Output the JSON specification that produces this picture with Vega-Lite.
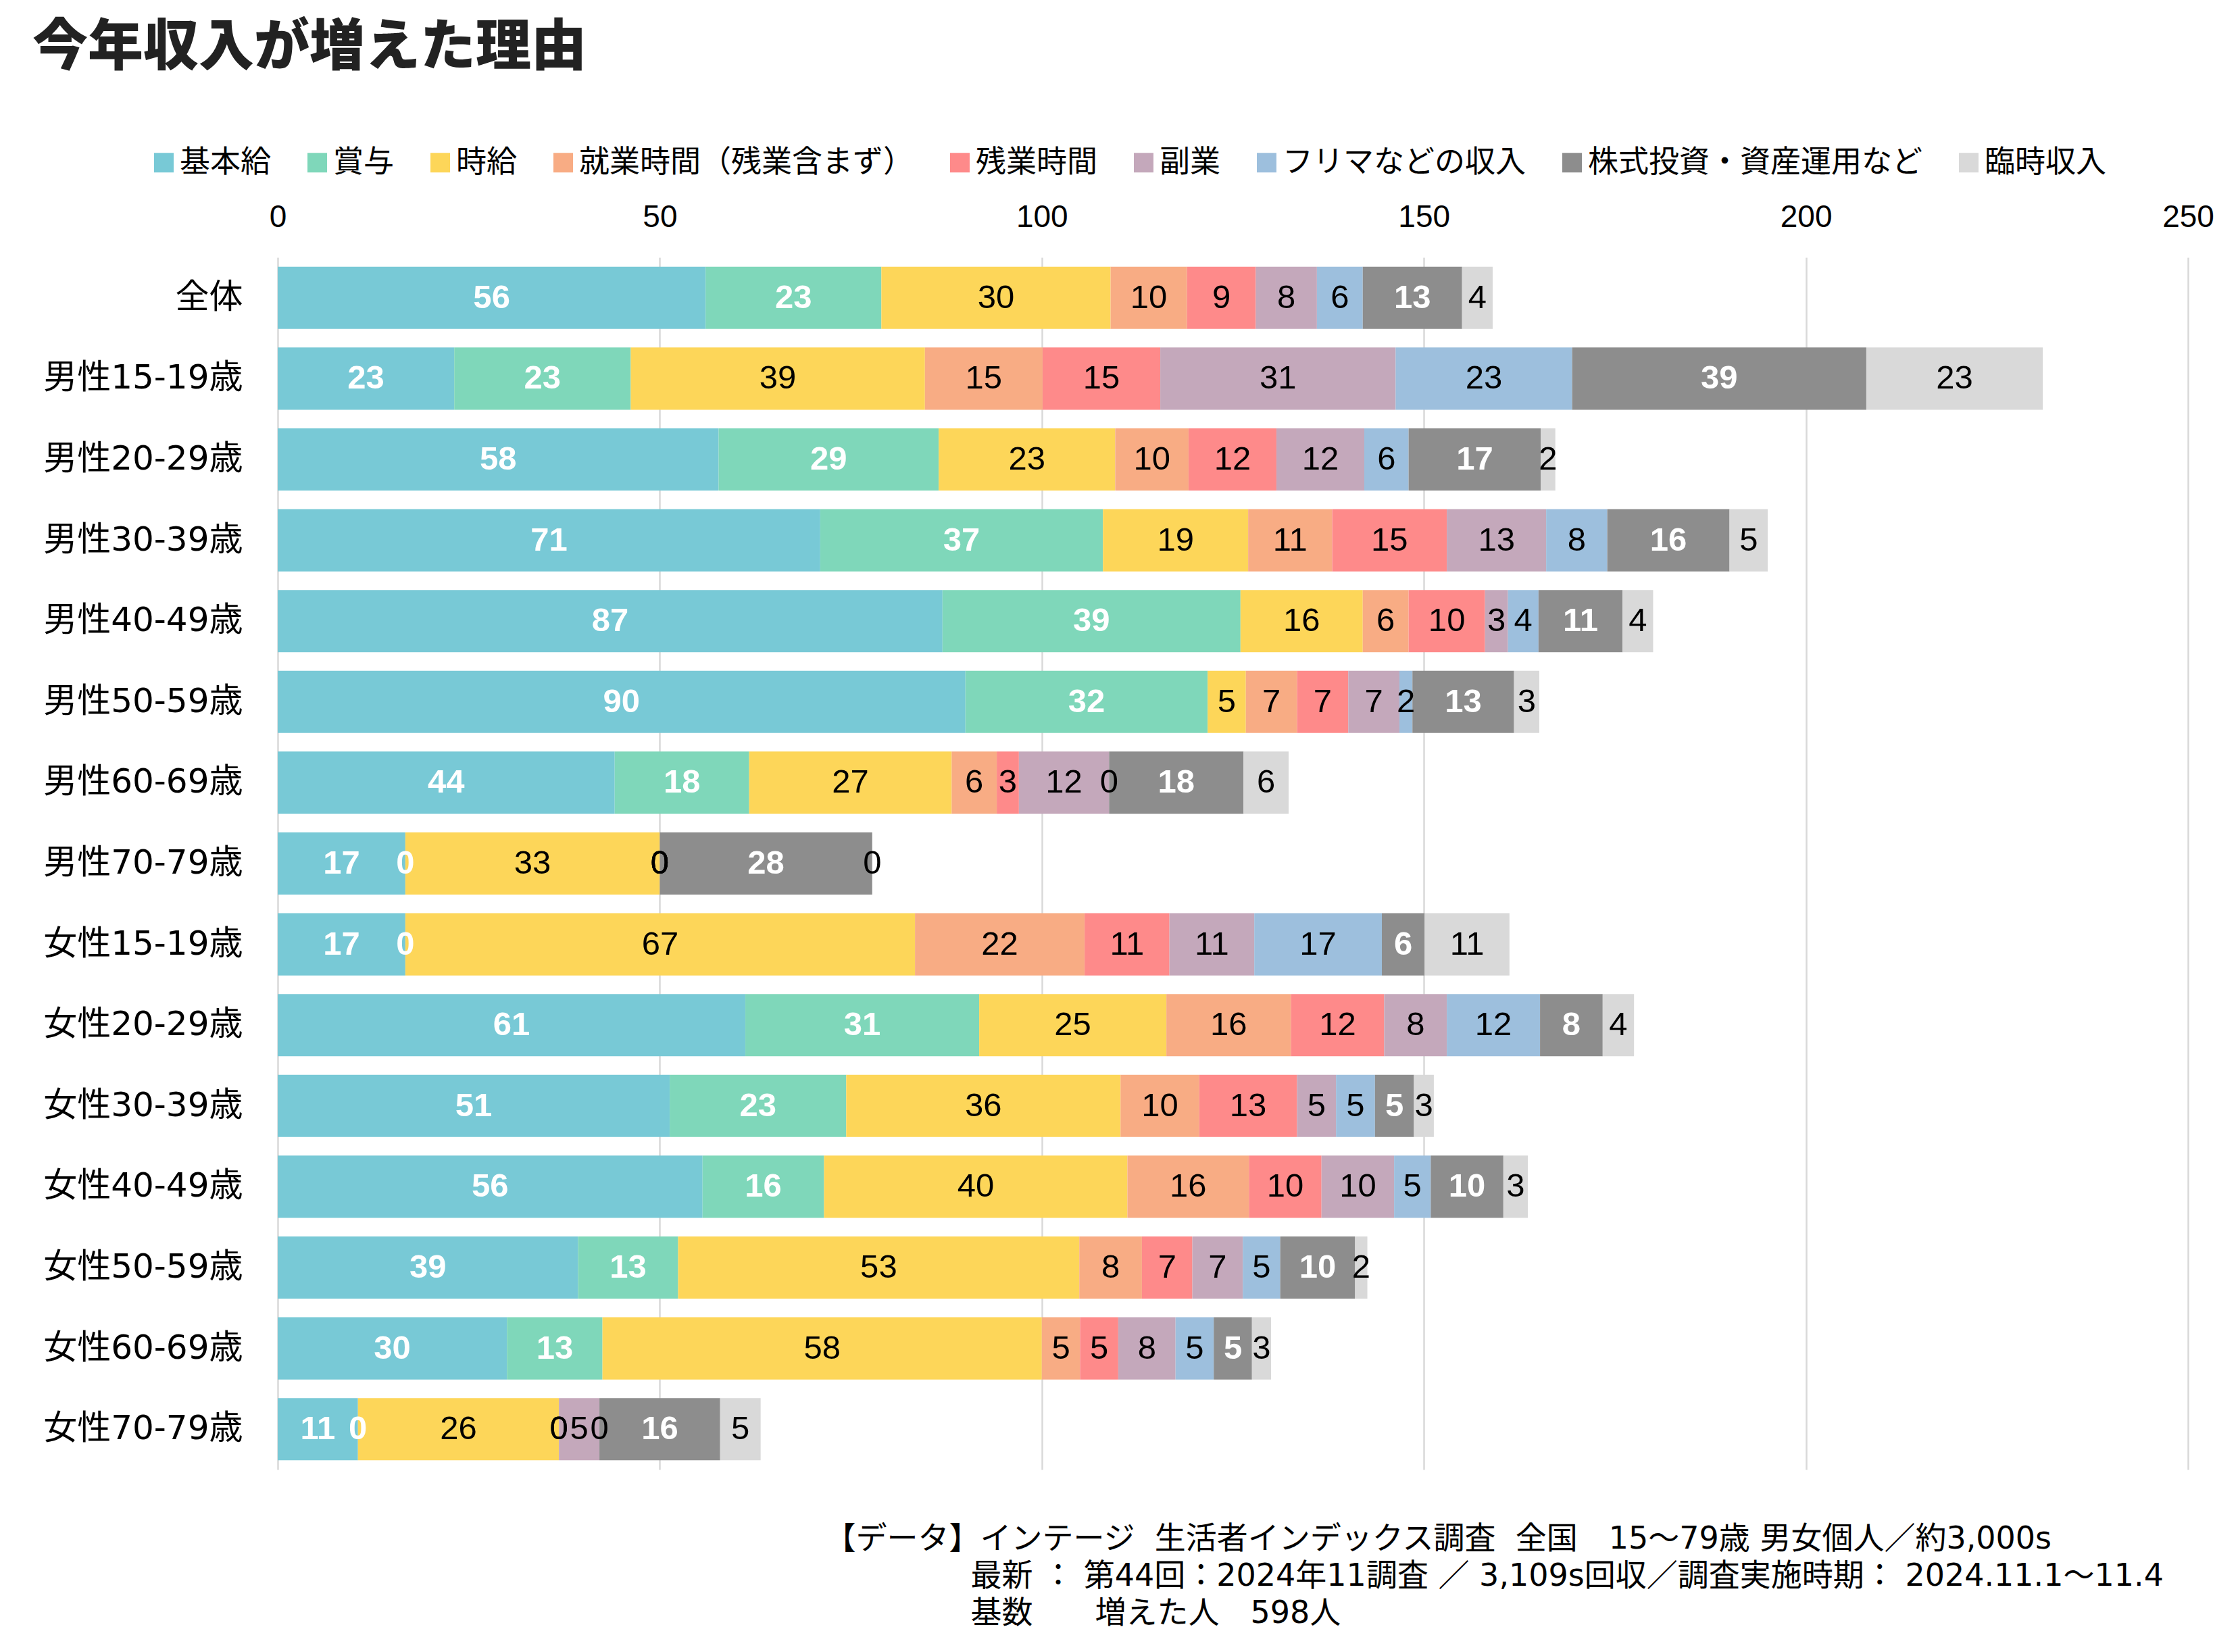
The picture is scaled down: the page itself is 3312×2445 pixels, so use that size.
{
  "$schema": "https://vega.github.io/schema/vega-lite/v6.json",
  "width": 2827,
  "height": 1794,
  "autosize": {"type": "none"},
  "padding": {"left": 411, "top": 381, "right": 74, "bottom": 270},
  "background": "white",
  "config": {"view": {"stroke": null}},
  "title": {
    "text": "今年収入が増えた理由",
    "anchor": "start",
    "frame": "group",
    "orient": "top",
    "dx": -363,
    "dy": 0,
    "font": "Noto Sans CJK JP",
    "fontSize": 82,
    "fontWeight": 900,
    "color": "#222222",
    "offset": 105
  },
  "data": {
    "values": [
      {"g": "全体", "c": "基本給", "v": 56}, {"g": "全体", "c": "賞与", "v": 23}, {"g": "全体", "c": "時給", "v": 30}, {"g": "全体", "c": "就業時間（残業含まず）", "v": 10}, {"g": "全体", "c": "残業時間", "v": 9}, {"g": "全体", "c": "副業", "v": 8}, {"g": "全体", "c": "フリマなどの収入", "v": 6}, {"g": "全体", "c": "株式投資・資産運用など", "v": 13}, {"g": "全体", "c": "臨時収入", "v": 4},
      {"g": "男性15-19歳", "c": "基本給", "v": 23.1}, {"g": "男性15-19歳", "c": "賞与", "v": 23.1}, {"g": "男性15-19歳", "c": "時給", "v": 38.5}, {"g": "男性15-19歳", "c": "就業時間（残業含まず）", "v": 15.4}, {"g": "男性15-19歳", "c": "残業時間", "v": 15.4}, {"g": "男性15-19歳", "c": "副業", "v": 30.8}, {"g": "男性15-19歳", "c": "フリマなどの収入", "v": 23.1}, {"g": "男性15-19歳", "c": "株式投資・資産運用など", "v": 38.5}, {"g": "男性15-19歳", "c": "臨時収入", "v": 23.1},
      {"g": "男性20-29歳", "c": "基本給", "v": 57.7}, {"g": "男性20-29歳", "c": "賞与", "v": 28.8}, {"g": "男性20-29歳", "c": "時給", "v": 23.1}, {"g": "男性20-29歳", "c": "就業時間（残業含まず）", "v": 9.6}, {"g": "男性20-29歳", "c": "残業時間", "v": 11.5}, {"g": "男性20-29歳", "c": "副業", "v": 11.5}, {"g": "男性20-29歳", "c": "フリマなどの収入", "v": 5.8}, {"g": "男性20-29歳", "c": "株式投資・資産運用など", "v": 17.3}, {"g": "男性20-29歳", "c": "臨時収入", "v": 1.9},
      {"g": "男性30-39歳", "c": "基本給", "v": 71}, {"g": "男性30-39歳", "c": "賞与", "v": 37}, {"g": "男性30-39歳", "c": "時給", "v": 19}, {"g": "男性30-39歳", "c": "就業時間（残業含まず）", "v": 11}, {"g": "男性30-39歳", "c": "残業時間", "v": 15}, {"g": "男性30-39歳", "c": "副業", "v": 13}, {"g": "男性30-39歳", "c": "フリマなどの収入", "v": 8}, {"g": "男性30-39歳", "c": "株式投資・資産運用など", "v": 16}, {"g": "男性30-39歳", "c": "臨時収入", "v": 5},
      {"g": "男性40-49歳", "c": "基本給", "v": 87}, {"g": "男性40-49歳", "c": "賞与", "v": 39}, {"g": "男性40-49歳", "c": "時給", "v": 16}, {"g": "男性40-49歳", "c": "就業時間（残業含まず）", "v": 6}, {"g": "男性40-49歳", "c": "残業時間", "v": 10}, {"g": "男性40-49歳", "c": "副業", "v": 3}, {"g": "男性40-49歳", "c": "フリマなどの収入", "v": 4}, {"g": "男性40-49歳", "c": "株式投資・資産運用など", "v": 11}, {"g": "男性40-49歳", "c": "臨時収入", "v": 4},
      {"g": "男性50-59歳", "c": "基本給", "v": 90}, {"g": "男性50-59歳", "c": "賞与", "v": 31.7}, {"g": "男性50-59歳", "c": "時給", "v": 5}, {"g": "男性50-59歳", "c": "就業時間（残業含まず）", "v": 6.7}, {"g": "男性50-59歳", "c": "残業時間", "v": 6.7}, {"g": "男性50-59歳", "c": "副業", "v": 6.7}, {"g": "男性50-59歳", "c": "フリマなどの収入", "v": 1.7}, {"g": "男性50-59歳", "c": "株式投資・資産運用など", "v": 13.3}, {"g": "男性50-59歳", "c": "臨時収入", "v": 3.3},
      {"g": "男性60-69歳", "c": "基本給", "v": 44.1}, {"g": "男性60-69歳", "c": "賞与", "v": 17.6}, {"g": "男性60-69歳", "c": "時給", "v": 26.5}, {"g": "男性60-69歳", "c": "就業時間（残業含まず）", "v": 5.9}, {"g": "男性60-69歳", "c": "残業時間", "v": 2.9}, {"g": "男性60-69歳", "c": "副業", "v": 11.8}, {"g": "男性60-69歳", "c": "フリマなどの収入", "v": 0}, {"g": "男性60-69歳", "c": "株式投資・資産運用など", "v": 17.6}, {"g": "男性60-69歳", "c": "臨時収入", "v": 5.9},
      {"g": "男性70-79歳", "c": "基本給", "v": 16.7}, {"g": "男性70-79歳", "c": "賞与", "v": 0}, {"g": "男性70-79歳", "c": "時給", "v": 33.3}, {"g": "男性70-79歳", "c": "就業時間（残業含まず）", "v": 0}, {"g": "男性70-79歳", "c": "残業時間", "v": 0}, {"g": "男性70-79歳", "c": "副業", "v": 0}, {"g": "男性70-79歳", "c": "フリマなどの収入", "v": 0}, {"g": "男性70-79歳", "c": "株式投資・資産運用など", "v": 27.8}, {"g": "男性70-79歳", "c": "臨時収入", "v": 0},
      {"g": "女性15-19歳", "c": "基本給", "v": 16.7}, {"g": "女性15-19歳", "c": "賞与", "v": 0}, {"g": "女性15-19歳", "c": "時給", "v": 66.7}, {"g": "女性15-19歳", "c": "就業時間（残業含まず）", "v": 22.2}, {"g": "女性15-19歳", "c": "残業時間", "v": 11.1}, {"g": "女性15-19歳", "c": "副業", "v": 11.1}, {"g": "女性15-19歳", "c": "フリマなどの収入", "v": 16.7}, {"g": "女性15-19歳", "c": "株式投資・資産運用など", "v": 5.6}, {"g": "女性15-19歳", "c": "臨時収入", "v": 11.1},
      {"g": "女性20-29歳", "c": "基本給", "v": 61.2}, {"g": "女性20-29歳", "c": "賞与", "v": 30.6}, {"g": "女性20-29歳", "c": "時給", "v": 24.5}, {"g": "女性20-29歳", "c": "就業時間（残業含まず）", "v": 16.3}, {"g": "女性20-29歳", "c": "残業時間", "v": 12.2}, {"g": "女性20-29歳", "c": "副業", "v": 8.2}, {"g": "女性20-29歳", "c": "フリマなどの収入", "v": 12.2}, {"g": "女性20-29歳", "c": "株式投資・資産運用など", "v": 8.2}, {"g": "女性20-29歳", "c": "臨時収入", "v": 4.1},
      {"g": "女性30-39歳", "c": "基本給", "v": 51.3}, {"g": "女性30-39歳", "c": "賞与", "v": 23.1}, {"g": "女性30-39歳", "c": "時給", "v": 35.9}, {"g": "女性30-39歳", "c": "就業時間（残業含まず）", "v": 10.3}, {"g": "女性30-39歳", "c": "残業時間", "v": 12.8}, {"g": "女性30-39歳", "c": "副業", "v": 5.1}, {"g": "女性30-39歳", "c": "フリマなどの収入", "v": 5.1}, {"g": "女性30-39歳", "c": "株式投資・資産運用など", "v": 5.1}, {"g": "女性30-39歳", "c": "臨時収入", "v": 2.6},
      {"g": "女性40-49歳", "c": "基本給", "v": 55.6}, {"g": "女性40-49歳", "c": "賞与", "v": 15.9}, {"g": "女性40-49歳", "c": "時給", "v": 39.7}, {"g": "女性40-49歳", "c": "就業時間（残業含まず）", "v": 15.9}, {"g": "女性40-49歳", "c": "残業時間", "v": 9.5}, {"g": "女性40-49歳", "c": "副業", "v": 9.5}, {"g": "女性40-49歳", "c": "フリマなどの収入", "v": 4.8}, {"g": "女性40-49歳", "c": "株式投資・資産運用など", "v": 9.5}, {"g": "女性40-49歳", "c": "臨時収入", "v": 3.2},
      {"g": "女性50-59歳", "c": "基本給", "v": 39.3}, {"g": "女性50-59歳", "c": "賞与", "v": 13.1}, {"g": "女性50-59歳", "c": "時給", "v": 52.5}, {"g": "女性50-59歳", "c": "就業時間（残業含まず）", "v": 8.2}, {"g": "女性50-59歳", "c": "残業時間", "v": 6.6}, {"g": "女性50-59歳", "c": "副業", "v": 6.6}, {"g": "女性50-59歳", "c": "フリマなどの収入", "v": 4.9}, {"g": "女性50-59歳", "c": "株式投資・資産運用など", "v": 9.8}, {"g": "女性50-59歳", "c": "臨時収入", "v": 1.6},
      {"g": "女性60-69歳", "c": "基本給", "v": 30}, {"g": "女性60-69歳", "c": "賞与", "v": 12.5}, {"g": "女性60-69歳", "c": "時給", "v": 57.5}, {"g": "女性60-69歳", "c": "就業時間（残業含まず）", "v": 5}, {"g": "女性60-69歳", "c": "残業時間", "v": 5}, {"g": "女性60-69歳", "c": "副業", "v": 7.5}, {"g": "女性60-69歳", "c": "フリマなどの収入", "v": 5}, {"g": "女性60-69歳", "c": "株式投資・資産運用など", "v": 5}, {"g": "女性60-69歳", "c": "臨時収入", "v": 2.5},
      {"g": "女性70-79歳", "c": "基本給", "v": 10.5}, {"g": "女性70-79歳", "c": "賞与", "v": 0}, {"g": "女性70-79歳", "c": "時給", "v": 26.3}, {"g": "女性70-79歳", "c": "就業時間（残業含まず）", "v": 0}, {"g": "女性70-79歳", "c": "残業時間", "v": 0}, {"g": "女性70-79歳", "c": "副業", "v": 5.3}, {"g": "女性70-79歳", "c": "フリマなどの収入", "v": 0}, {"g": "女性70-79歳", "c": "株式投資・資産運用など", "v": 15.8}, {"g": "女性70-79歳", "c": "臨時収入", "v": 5.3}
    ]
  },
  "transform": [
    {"calculate": "indexof(['基本給','賞与','時給','就業時間（残業含まず）','残業時間','副業','フリマなどの収入','株式投資・資産運用など','臨時収入'], datum.c)", "as": "k"},
    {"stack": "v", "groupby": ["g"], "sort": [{"field": "k", "order": "ascending"}], "as": ["x0", "x1"]},
    {"calculate": "(datum.x0 + datum.x1) / 2", "as": "mid"}
  ],
  "encoding": {
    "y": {
      "field": "g",
      "type": "nominal",
      "sort": ["全体","男性15-19歳","男性20-29歳","男性30-39歳","男性40-49歳","男性50-59歳","男性60-69歳","男性70-79歳","女性15-19歳","女性20-29歳","女性30-39歳","女性40-49歳","女性50-59歳","女性60-69歳","女性70-79歳"],
      "scale": {"paddingInner": 0.23, "paddingOuter": 0.115},
      "axis": {"title": null, "ticks": false, "domain": false, "labelFont": "DejaVu Sans, Noto Sans CJK JP", "labelFontSize": 50, "labelColor": "#000000", "labelPadding": 52, "labelLimit": 600}
    }
  },
  "layer": [
    {
      "mark": {"type": "bar", "stroke": null},
      "encoding": {
        "x": {
          "field": "x0",
          "type": "quantitative",
          "scale": {"domain": [0, 250], "nice": false, "zero": true},
          "axis": {"orient": "top", "title": null, "values": [0, 50, 100, 150, 200, 250], "ticks": false, "domain": false, "grid": true, "gridColor": "#d9d9d9", "gridWidth": 2.5, "labelFont": "Liberation Sans", "labelFontSize": 46, "labelColor": "#000000", "labelPadding": 36, "labelFlush": false}
        },
        "x2": {"field": "x1"},
        "color": {
          "field": "c",
          "type": "nominal",
          "scale": {
            "domain": ["基本給","賞与","時給","就業時間（残業含まず）","残業時間","副業","フリマなどの収入","株式投資・資産運用など","臨時収入"],
            "range": ["#78c9d6","#7fd7ba","#fdd659","#f8ac84","#fe8a8a","#c4a8bb","#9dbfdd","#8d8d8d","#d9d9d9"]
          },
          "legend": {"orient": "none", "legendX": -191, "legendY": -163, "direction": "horizontal", "columns": 9, "title": null, "symbolType": "square", "symbolSize": 841, "symbolStrokeWidth": 0, "labelFont": "Noto Sans CJK JP", "labelFontSize": 45, "labelColor": "#000000", "labelOffset": 1, "columnPadding": 45, "labelLimit": 1000}
        }
      }
    },
    {
      "transform": [{"filter": "datum.k != 0 && datum.k != 1 && datum.k != 7"}],
      "mark": {"type": "text", "font": "Liberation Sans", "fontSize": 49, "align": "center", "baseline": "middle", "fill": "#000000"},
      "encoding": {
        "x": {
          "field": "mid",
          "type": "quantitative",
          "axis": {"orient": "bottom", "labels": false, "ticks": false, "domain": false, "grid": false,
            "title": "【データ】インテージ\u00a0\u00a0生活者インデックス調査\u00a0\u00a0全国　15～79歳 男女個人／約3,000s",
            "titleFont": "DejaVu Sans, Noto Sans CJK JP", "titleFontSize": 46, "titleFontWeight": "normal", "titleColor": "#000000", "titleAnchor": "start", "titleAlign": "left", "titleX": 809, "titleY": 80, "titleBaseline": "top", "titleLimit": 3000}
        },
        "text": {"field": "v", "type": "quantitative", "format": ".0f"}
      }
    },
    {
      "transform": [{"filter": "datum.k == 0 || datum.k == 1 || datum.k == 7"}],
      "mark": {"type": "text", "font": "Liberation Sans", "fontSize": 49, "fontWeight": "bold", "align": "center", "baseline": "middle", "fill": "#ffffff"},
      "encoding": {
        "x": {
          "field": "mid",
          "type": "quantitative",
          "axis": {"orient": "bottom", "labels": false, "ticks": false, "domain": false, "grid": false,
            "title": ["最新 ： 第44回：2024年11調査 ／ 3,109s回収／調査実施時期： 2024.11.1～11.4", "基数　　増えた人　598人"],
            "titleFont": "DejaVu Sans, Noto Sans CJK JP", "titleFontSize": 46, "titleFontWeight": "normal", "titleColor": "#000000", "titleAnchor": "start", "titleAlign": "left", "titleX": 1025, "titleY": 135, "titleBaseline": "top", "titleLineHeight": 55, "titleLimit": 3000}
        },
        "text": {"field": "v", "type": "quantitative", "format": ".0f"}
      }
    }
  ],
  "resolve": {"axis": {"x": "independent"}}
}
